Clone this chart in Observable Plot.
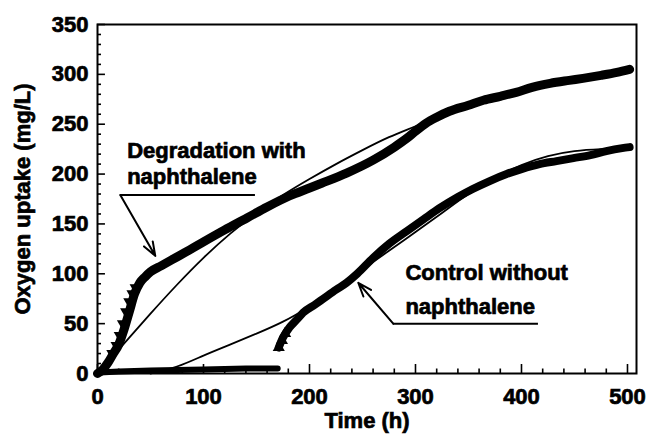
<!DOCTYPE html>
<html><head><meta charset="utf-8">
<script src="https://cdn.jsdelivr.net/npm/d3@7"></script>
<script src="https://cdn.jsdelivr.net/npm/@observablehq/plot@0.6"></script>
<style>
body{margin:0;background:#fff;}
#chart svg text{font-family:"Liberation Sans",Arial,sans-serif;font-weight:bold;stroke:#000;stroke-width:0.7px;}
</style></head><body><div id="chart"></div>
<script>
// Degradation with naphthalene: measured band [time h, O2 mg/L]
const degradationData = [[0,0],[5,4],[10,11],[15,20],[20,29],[25,44],[30,62],[35,80],[40,91],[45,97],[50,102],[60,108],[70,114],[87,124],[100,132],[120,144],[141,156],[160,167],[181,178],[200,186],[212,191],[235,201],[260,214],[280,227],[292,236],[300,243],[310,251],[320,257],[332,263],[350,269],[364,274],[380,278],[395,282],[410,287],[427,291],[445,294],[458,296],[475,299],[490,302],[502,305]];
const degradationMarkers = [[14,20],[18,28],[21,38],[24,50],[27,62],[30,72],[33,80],[36,86]];
const degradationFit = [[0,0],[25,30],[50,60],[75,89],[100,116],[125,140],[150,161],[175,179],[200,195],[225,210],[250,224],[275,237],[300,248],[325,259],[350,268],[375,276],[400,283],[425,289],[450,294],[475,299],[500,303]];
// Control without naphthalene
const controlFlat = [[2,1],[20,2],[50,3],[100,4],[140,5],[170,5]];
const controlData = [[171,26],[175,36],[181,46],[188,54],[194,61],[205,69],[213,75],[225,84],[235,91],[245,100],[260,116],[275,130],[292,143],[308,155],[323,166],[340,177],[354,185],[370,193],[386,200],[400,205],[417,210],[433,213],[449,216],[465,219],[480,223],[495,226],[502,227]];
const controlMarkers = [[171,26],[174,33],[177,40]];
const controlFit = [[50,0],[75,7],[100,18],[125,29],[150,40],[175,52],[200,67],[225,84],[250,104],[275,123],[300,142],[325,161],[350,180],[375,196],[400,209],[425,218],[450,223],[475,225],[500,226]];
// Axes
const xLabels = [0,100,200,300,400,500];
const xMinor = d3.range(0, 501, 20);
const yLabels = [0,50,100,150,200,250,300,350];
const yMinor = d3.range(0, 351, 10);
// Annotations
const annotationText = [
  {text:"Degradation with", x:28, y:223},
  {text:"naphthalene", x:28, y:197},
  {text:"Control without", x:290.5, y:101},
  {text:"naphthalene", x:290.5, y:67}
];
const underlines = [{x1:21.5, x2:149, y:179},{x1:279, x2:416, y:50}];
const leaders = [{x1:21.5, y1:179, x2:54.5, y2:118},{x1:279, y1:50, x2:246, y2:91}];

const chart = Plot.plot({
  width: 649, height: 439,
  marginLeft: 97, marginRight: 13, marginTop: 24, marginBottom: 66,
  style: {fontSize: "22px", fontFamily: "'Liberation Sans', Arial, sans-serif", fontWeight: "bold", color: "black", background: "white"},
  x: {domain: [0, 508.5]},
  y: {domain: [0, 350]},
  marks: [
    Plot.frame({stroke: "black", strokeWidth: 2}),
    Plot.ruleX(xMinor, {x: d => d, y1: 0, y2: d => d % 100 === 0 ? 9 : 4.5, strokeWidth: 1.6}),
    Plot.ruleY(yMinor, {y: d => d, x1: 0, x2: d => d % 50 === 0 ? 7.5 : 3.8, strokeWidth: 1.6}),
    Plot.axisX({ticks: xLabels, tickSize: 0, tickPadding: 15, label: null, tickFormat: d => String(d)}),
    Plot.axisY({ticks: yLabels, tickSize: 0, tickPadding: 9, label: null, tickFormat: d => String(d)}),
    Plot.text(["Time (h)"], {frameAnchor: "bottom", dy: 54, fontSize: 22}),
    Plot.text(["Oxygen uptake (mg/L)"], {frameAnchor: "left", textAnchor: "middle", dx: -75, rotate: -90, fontSize: 22}),
    Plot.line(degradationFit, {x: d => d[0], y: d => d[1], stroke: "black", strokeWidth: 1.8, curve: "natural"}),
    Plot.line(controlFit, {x: d => d[0], y: d => d[1], stroke: "black", strokeWidth: 1.8, curve: "natural"}),
    Plot.line(degradationData, {x: d => d[0], y: d => d[1], stroke: "black", strokeWidth: 9, strokeLinejoin: "round", strokeLinecap: "round", curve: "monotone-x"}),
    Plot.line(controlFlat, {x: d => d[0], y: d => d[1], stroke: "black", strokeWidth: 6, strokeLinejoin: "round"}),
    Plot.line(controlData, {x: d => d[0], y: d => d[1], stroke: "black", strokeWidth: 8, strokeLinejoin: "round", strokeLinecap: "round", curve: "monotone-x"}),
    Plot.dot(degradationMarkers, {x: d => d[0], y: d => d[1], symbol: "triangle", r: 4.5, fill: "black", rotate: 180}),
    Plot.dot(controlMarkers, {x: d => d[0], y: d => d[1], symbol: "triangle", r: 4.5, fill: "black"}),
    Plot.ruleY(underlines, {y: "y", x1: "x1", x2: "x2", strokeWidth: 2}),
    Plot.arrow(leaders, {x1: "x1", y1: "y1", x2: "x2", y2: "y2", strokeWidth: 2, headLength: 11, headAngle: 40}),
    Plot.text(annotationText, {x: "x", y: "y", text: "text", textAnchor: "start", fontSize: 22})
  ]
});
document.getElementById("chart").appendChild(chart);
</script></body></html>
